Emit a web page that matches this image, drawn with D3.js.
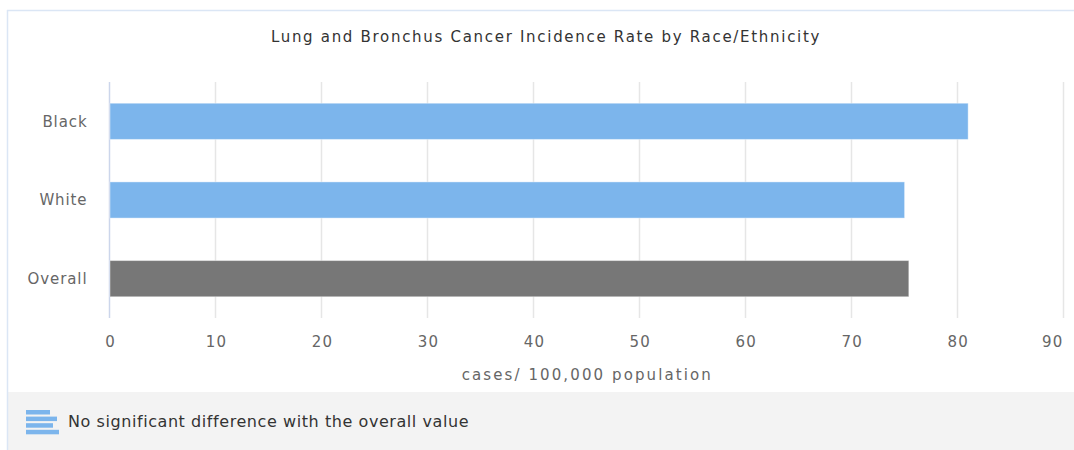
<!DOCTYPE html>
<html><head><meta charset="utf-8">
<script src="https://cdn.jsdelivr.net/npm/d3@7"></script>
<style>body{margin:0;background:#fff;} svg{display:block;}</style>
</head><body>
<svg id="chart" width="1074" height="450"></svg>
<script>
const title = "Lung and Bronchus Cancer Incidence Rate by Race/Ethnicity";
const categories = ["Black", "White", "Overall"];
const values = [81.0, 75.0, 75.4];
const barColors = ["#7cb5ec", "#7cb5ec", "#777777"];
const xTicks = [0, 10, 20, 30, 40, 50, 60, 70, 80, 90];
const xAxisTitle = "cases/ 100,000 population";
const legendText = "No significant difference with the overall value";
const legendIconLengths = [24, 31, 27, 33];

const svg = d3.select("#chart");
const font = "'DejaVu Sans', Verdana, sans-serif";
const m = {left: 109.5, right: 1063, top: 82, bottom: 318};

// frame
svg.append("rect").attr("x", 8).attr("y", 392).attr("width", 1066).attr("height", 58).attr("fill", "#f3f3f3");
svg.append("line").attr("x1", 7.5).attr("x2", 7.5).attr("y1", 10).attr("y2", 450).attr("stroke", "#dbe6f5").attr("stroke-width", 1.5);
svg.append("line").attr("x1", 7).attr("x2", 1074).attr("y1", 10.5).attr("y2", 10.5).attr("stroke", "#dbe6f5").attr("stroke-width", 1.5);

svg.append("text").attr("x", 546).attr("y", 42).attr("text-anchor", "middle")
  .attr("font-family", font).attr("font-size", 15).attr("letter-spacing", 1.7).attr("fill", "#333").text(title);

const x = d3.scaleLinear().domain([0, 90]).range([m.left, m.right]);
const y = d3.scaleBand().domain(categories).range([m.top, m.bottom]).padding(0);

// grid
svg.append("g").selectAll("line").data(xTicks.filter(d => d > 0)).join("line")
  .attr("x1", d => Math.round(x(d)) + 0.5).attr("x2", d => Math.round(x(d)) + 0.5)
  .attr("y1", m.top).attr("y2", m.bottom).attr("stroke", "#e6e6e6").attr("stroke-width", 1.5);

// x axis
const xAxis = d3.axisBottom(x).tickValues(xTicks).tickSize(0).tickPadding(0).tickFormat(d3.format("d"));
const gx = svg.append("g").attr("transform", `translate(0,${m.bottom})`).call(xAxis);
gx.select(".domain").remove();
gx.selectAll("text").attr("font-family", font).attr("font-size", 15).attr("letter-spacing", 1.2)
  .attr("fill", "#666").attr("dy", null).attr("y", 29).attr("x", 0.6);
// last label kept inside the plot edge (justified)
gx.selectAll("text").filter(d => d === xTicks[xTicks.length - 1])
  .attr("text-anchor", "end").attr("x", 0);

// y axis
const yAxis = d3.axisLeft(y).tickSize(0).tickPadding(0);
const gy = svg.append("g").attr("transform", `translate(${m.left},0)`).call(yAxis);
gy.select(".domain").attr("stroke", "#ccd6eb").attr("stroke-width", 1.5).attr("d", `M0,${m.top}V${m.bottom}`);
gy.selectAll("text").attr("font-family", font).attr("font-size", 15).attr("letter-spacing", 0.9)
  .attr("fill", "#666").attr("x", -22).attr("dy", "0.35em");

// bars
const barH = y.bandwidth() * 0.46;
svg.append("g").selectAll("rect").data(categories).join("rect")
  .attr("x", x(0) + 0.5)
  .attr("y", d => y(d) + (y.bandwidth() - barH) / 2)
  .attr("width", (d, i) => x(values[i]) - x(0))
  .attr("height", barH)
  .attr("fill", (d, i) => barColors[i])
  .attr("stroke", "#ffffff").attr("stroke-opacity", 0.4).attr("stroke-width", 1);

svg.append("text").attr("x", (m.left + m.right) / 2 + 1).attr("y", 380).attr("text-anchor", "middle")
  .attr("font-family", font).attr("font-size", 15).attr("letter-spacing", 2.1).attr("fill", "#666").text(xAxisTitle);

// legend
const icon = svg.append("g");
icon.selectAll("rect").data(legendIconLengths).join("rect")
  .attr("x", 26).attr("y", (d, i) => 410 + i * 6.6).attr("width", d => d).attr("height", 4.5)
  .attr("fill", "#7cb5ec");
svg.append("text").attr("x", 68).attr("y", 427).attr("font-family", font).attr("font-size", 16)
  .attr("letter-spacing", 0.57).attr("fill", "#333").text(legendText);
</script>
</body></html>
